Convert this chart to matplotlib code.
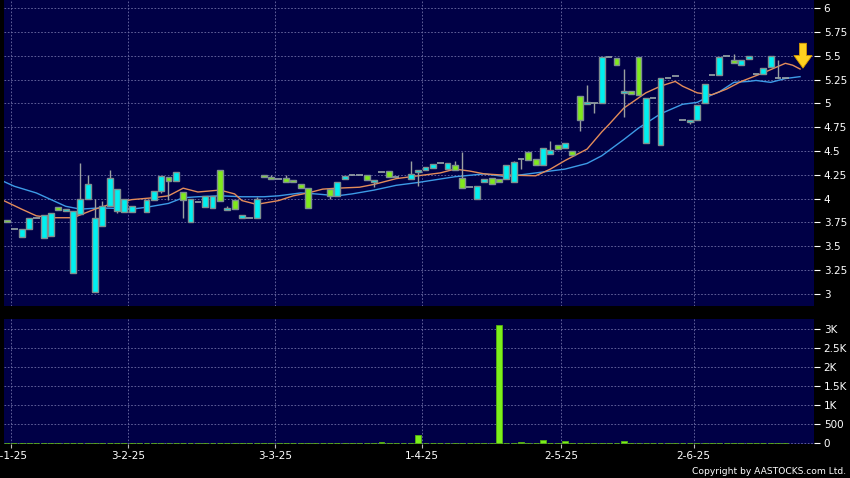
import numpy as np
import matplotlib
matplotlib.use("Agg")
import matplotlib.pyplot as plt

nan = np.nan

# daily candles, index = trading day (cyan = up, green = down)
opens = [3.78, 3.68, 3.60, 3.68, 3.80, 3.59, 3.61, 3.91, 3.87, 3.22,
         3.84, 4.00, 3.02, 3.71, 3.92, 3.87, 3.86, 3.86, nan, 3.86,
         3.99, 4.08, 4.23, 4.19, 4.07, 3.75, 3.97, 3.91, 3.90, 4.30,
         3.88, 3.99, 3.80, 3.80, 3.80, 4.25, 4.23, 4.21, 4.22, 4.20,
         4.15, 4.11, nan, nan, 4.10, 4.03, 4.21, 4.25, 4.25, 4.25,
         4.18, 4.28, 4.29, 4.23, nan, 4.21, 4.28, 4.30, 4.32, 4.37,
         4.31, 4.35, 4.22, 4.12, 4.00, 4.17, 4.22, 4.21, 4.21, 4.17,
         4.42, 4.49, 4.42, 4.35, 4.47, 4.56, 4.53, 4.50, 5.08, 4.99,
         5.00, 5.00, 5.49, 5.48, 5.11, 5.13, 5.49, 4.58, 5.06, 4.56,
         5.27, 5.29, 4.82, 4.80, 4.83, 5.00, 5.30, 5.30, 5.50, 5.45,
         5.40, 5.46, 5.31, 5.31, 5.38, 5.27, 5.27]
highs = [3.78, 3.68, 3.68, 3.80, 3.80, 3.83, 3.85, 3.91, 3.89, 3.87,
         4.37, 4.25, 4.00, 3.98, 4.30, 4.10, 4.00, 3.92, nan, 3.99,
         4.08, 4.24, 4.23, 4.28, 4.07, 4.00, 3.97, 4.03, 4.03, 4.30,
         3.92, 3.99, 3.83, 3.80, 4.02, 4.25, 4.25, 4.21, 4.25, 4.20,
         4.15, 4.11, nan, nan, 4.10, 4.18, 4.24, 4.25, 4.25, 4.25,
         4.20, 4.28, 4.29, 4.23, nan, 4.40, 4.30, 4.33, 4.36, 4.37,
         4.37, 4.40, 4.49, 4.12, 4.13, 4.21, 4.22, 4.21, 4.35, 4.40,
         4.42, 4.49, 4.42, 4.53, 4.61, 4.56, 4.58, 4.50, 5.08, 5.19,
         5.00, 5.49, 5.49, 5.48, 5.36, 5.13, 5.49, 5.06, 5.06, 5.27,
         5.27, 5.29, 4.82, 4.83, 4.98, 5.20, 5.30, 5.49, 5.50, 5.52,
         5.45, 5.50, 5.31, 5.37, 5.50, 5.45, 5.27]
lows = [3.76, 3.68, 3.60, 3.68, 3.80, 3.59, 3.61, 3.88, 3.87, 3.22,
        3.84, 4.00, 3.02, 3.71, 3.92, 3.85, 3.86, 3.86, nan, 3.86,
        3.99, 4.06, 3.99, 4.19, 3.80, 3.75, 3.97, 3.91, 3.90, 3.98,
        3.88, 3.89, 3.80, 3.80, 3.80, 4.23, 4.21, 4.21, 4.18, 4.17,
        4.11, 3.90, nan, nan, 4.00, 4.03, 4.21, 4.25, 4.25, 4.20,
        4.12, 4.28, 4.23, 4.23, nan, 4.21, 4.13, 4.30, 4.32, 4.37,
        4.31, 4.30, 4.11, 4.12, 4.00, 4.17, 4.15, 4.17, 4.21, 4.17,
        4.31, 4.41, 4.35, 4.35, 4.47, 4.52, 4.53, 4.46, 4.71, 4.99,
        4.90, 5.00, 5.49, 5.40, 4.86, 5.10, 5.09, 4.58, 5.06, 4.56,
        5.27, 5.29, 4.82, 4.78, 4.83, 5.00, 5.30, 5.30, 5.50, 5.42,
        5.40, 5.46, 5.31, 5.31, 5.38, 5.27, 5.27]
closes = [3.76, 3.68, 3.68, 3.80, 3.80, 3.83, 3.85, 3.88, 3.89, 3.87,
          4.00, 4.15, 3.80, 3.92, 4.22, 4.10, 4.00, 3.92, nan, 3.99,
          4.08, 4.24, 4.19, 4.28, 3.99, 4.00, 3.97, 4.03, 4.03, 3.98,
          3.90, 3.89, 3.83, 3.80, 4.00, 4.23, 4.21, 4.21, 4.18, 4.17,
          4.11, 3.90, nan, nan, 4.03, 4.18, 4.24, 4.25, 4.25, 4.20,
          4.20, 4.28, 4.23, 4.23, nan, 4.26, 4.30, 4.33, 4.36, 4.37,
          4.37, 4.30, 4.11, 4.12, 4.13, 4.21, 4.15, 4.17, 4.35, 4.38,
          4.42, 4.41, 4.35, 4.53, 4.51, 4.52, 4.58, 4.46, 4.82, 5.01,
          5.00, 5.49, 5.49, 5.40, 5.13, 5.10, 5.09, 5.06, 5.06, 5.27,
          5.27, 5.29, 4.82, 4.83, 4.98, 5.20, 5.30, 5.49, 5.50, 5.42,
          5.45, 5.50, 5.31, 5.37, 5.50, 5.27, 5.27]

# volume (shares), mostly tiny
volumes = [0] * len(closes)
for i, v in {5: 20, 10: 5, 41: 10, 45: 15, 46: 15, 49: 15, 51: 35, 52: 15,
             56: 210, 60: 15, 61: 15, 62: 15, 65: 10, 67: 3110, 69: 10,
             70: 40, 73: 85, 76: 65, 78: 10, 80: 10, 84: 50, 88: 10,
             95: 15, 104: 15, 106: 15}.items():
    volumes[i] = v

# moving averages
ma_fast_idx = [-1, 2, 4, 6, 9, 10, 12, 14, 17, 20, 22, 24, 26, 29, 31, 32,
               34, 37, 39, 41, 43, 45, 48, 50, 53, 55, 59, 61, 63, 65, 67,
               72, 74, 76, 79, 81, 82, 84, 87, 89, 91, 92, 94, 96, 98, 100,
               103, 106, 107, 108]
ma_fast = [4.00, 3.89, 3.82, 3.80, 3.80, 3.83, 3.89, 3.94, 3.99, 4.01, 4.03,
           4.11, 4.07, 4.09, 4.05, 3.98, 3.94, 3.98, 4.03, 4.06, 4.10, 4.11,
           4.12, 4.15, 4.21, 4.23, 4.27, 4.31, 4.29, 4.26, 4.25, 4.24, 4.31,
           4.40, 4.52, 4.70, 4.78, 4.95, 5.11, 5.18, 5.23, 5.18, 5.11, 5.09,
           5.15, 5.23, 5.32, 5.42, 5.40, 5.36]
ma_slow_idx = [-1, 1, 4, 6, 8, 10, 12, 14, 17, 19, 22, 24, 26, 29, 32, 35,
               37, 40, 42, 45, 47, 50, 53, 56, 61, 65, 68, 72, 76, 78, 79,
               81, 84, 86, 89, 92, 94, 96, 97, 99, 101, 102, 104, 106, 108]
ma_slow = [4.20, 4.13, 4.06, 3.99, 3.92, 3.89, 3.90, 3.90, 3.89, 3.91, 3.95,
           4.01, 4.02, 4.03, 4.02, 4.02, 4.03, 4.06, 4.05, 4.03, 4.05, 4.09,
           4.14, 4.17, 4.23, 4.26, 4.23, 4.27, 4.31, 4.35, 4.37, 4.45, 4.62,
           4.74, 4.89, 4.99, 5.01, 5.09, 5.12, 5.22, 5.23, 5.24, 5.22, 5.26,
           5.28]

tick_pos = [0.5, 16.5, 36.5, 56.5, 75.5, 93.5]
tick_labels = ["2-1-25", "3-2-25", "3-3-25", "1-4-25", "2-5-25", "2-6-25"]
price_ticks = [3, 3.25, 3.5, 3.75, 4, 4.25, 4.5, 4.75, 5, 5.25, 5.5, 5.75, 6]
vol_ticks = [0, 500, 1000, 1500, 2000, 2500, 3000]
vol_labels = ["0", "500", "1K", "1.5K", "2K", "2.5K", "3K"]

UP = "#00f0f0"
DOWN = "#80ea1c"
PANEL = "#000046"
GRID = "#6e6ea6"

o = np.array(opens)
h = np.array(highs)
l = np.array(lows)
c = np.array(closes)
idx = np.arange(len(c))
ok = ~np.isnan(c)

fig = plt.figure(figsize=(8.5, 4.78), dpi=100, facecolor="black")
ax = fig.add_axes([4 / 850, 1 - 306 / 478, 810 / 850, 306 / 478])
axv = fig.add_axes([4 / 850, 1 - 444 / 478, 810 / 850, 125 / 478])

xlim = (-0.4, 109.9)
for a in (ax, axv):
    a.set_facecolor(PANEL)
    a.set_xlim(*xlim)
    for s in a.spines.values():
        s.set_visible(False)
    a.set_xticks(tick_pos)
    a.grid(True, color=GRID, linestyle=(0, (2, 2)), linewidth=0.6)
    a.set_axisbelow(True)
    a.yaxis.tick_right()
    a.tick_params(axis="y", colors="white", length=4, width=0.8, pad=3,
                  labelsize=7.5)

# price panel
ax.set_ylim(2.874, 6.084)
ax.set_yticks(price_ticks)
ax.set_yticklabels([f"{v:g}" for v in price_ticks])
ax.tick_params(axis="x", length=0, labelbottom=False)

ax.plot(ma_slow_idx, ma_slow, color="#3d9be6", lw=1, zorder=2)
ax.plot(ma_fast_idx, ma_fast, color="#e48c5a", lw=1, zorder=2)

ax.vlines(idx[ok], l[ok], h[ok], color="#9aa0a0", lw=1, zorder=3)
flat = ok & (np.abs(c - o) < 0.005)
body = ok & ~flat
up = body & (c >= o)
dn = body & (c < o)
for m, col in ((up, UP), (dn, DOWN)):
    ax.bar(idx[m], np.abs(c[m] - o[m]), bottom=np.minimum(o[m], c[m]),
           width=0.8, color=col, edgecolor="#7f9090", lw=1, zorder=4)
ax.hlines(c[flat], idx[flat] - 0.45, idx[flat] + 0.45, color="#9aa8a8",
          lw=1.2, zorder=4)

# last-price marker
last = idx[ok][-1]
ax.annotate("", xy=(last + 2.4, c[ok][-1] + 0.1),
            xytext=(last + 2.4, c[ok][-1] + 0.36),
            arrowprops=dict(facecolor="#ffd21f", edgecolor="#d89a00",
                            width=5, headwidth=13, headlength=9, lw=0.6),
            zorder=5)

# volume panel
axv.set_ylim(-18, 3270)
axv.set_yticks(vol_ticks)
axv.set_yticklabels(vol_labels)
axv.bar(idx, volumes, width=0.8, color="#7cf01a", edgecolor="#58b010",
        lw=0.6, zorder=3)
axv.set_xticklabels(tick_labels)
axv.tick_params(axis="x", colors="#bbbbbb", labelcolor="white", length=3,
                width=0.8, pad=2, labelsize=7.5)

fig.text(0.995, 0.005, "Copyright by AASTOCKS.com Ltd.", ha="right",
         va="bottom", color="white", fontsize=6.6)

fig.savefig("out.png", dpi=100, facecolor="black")
